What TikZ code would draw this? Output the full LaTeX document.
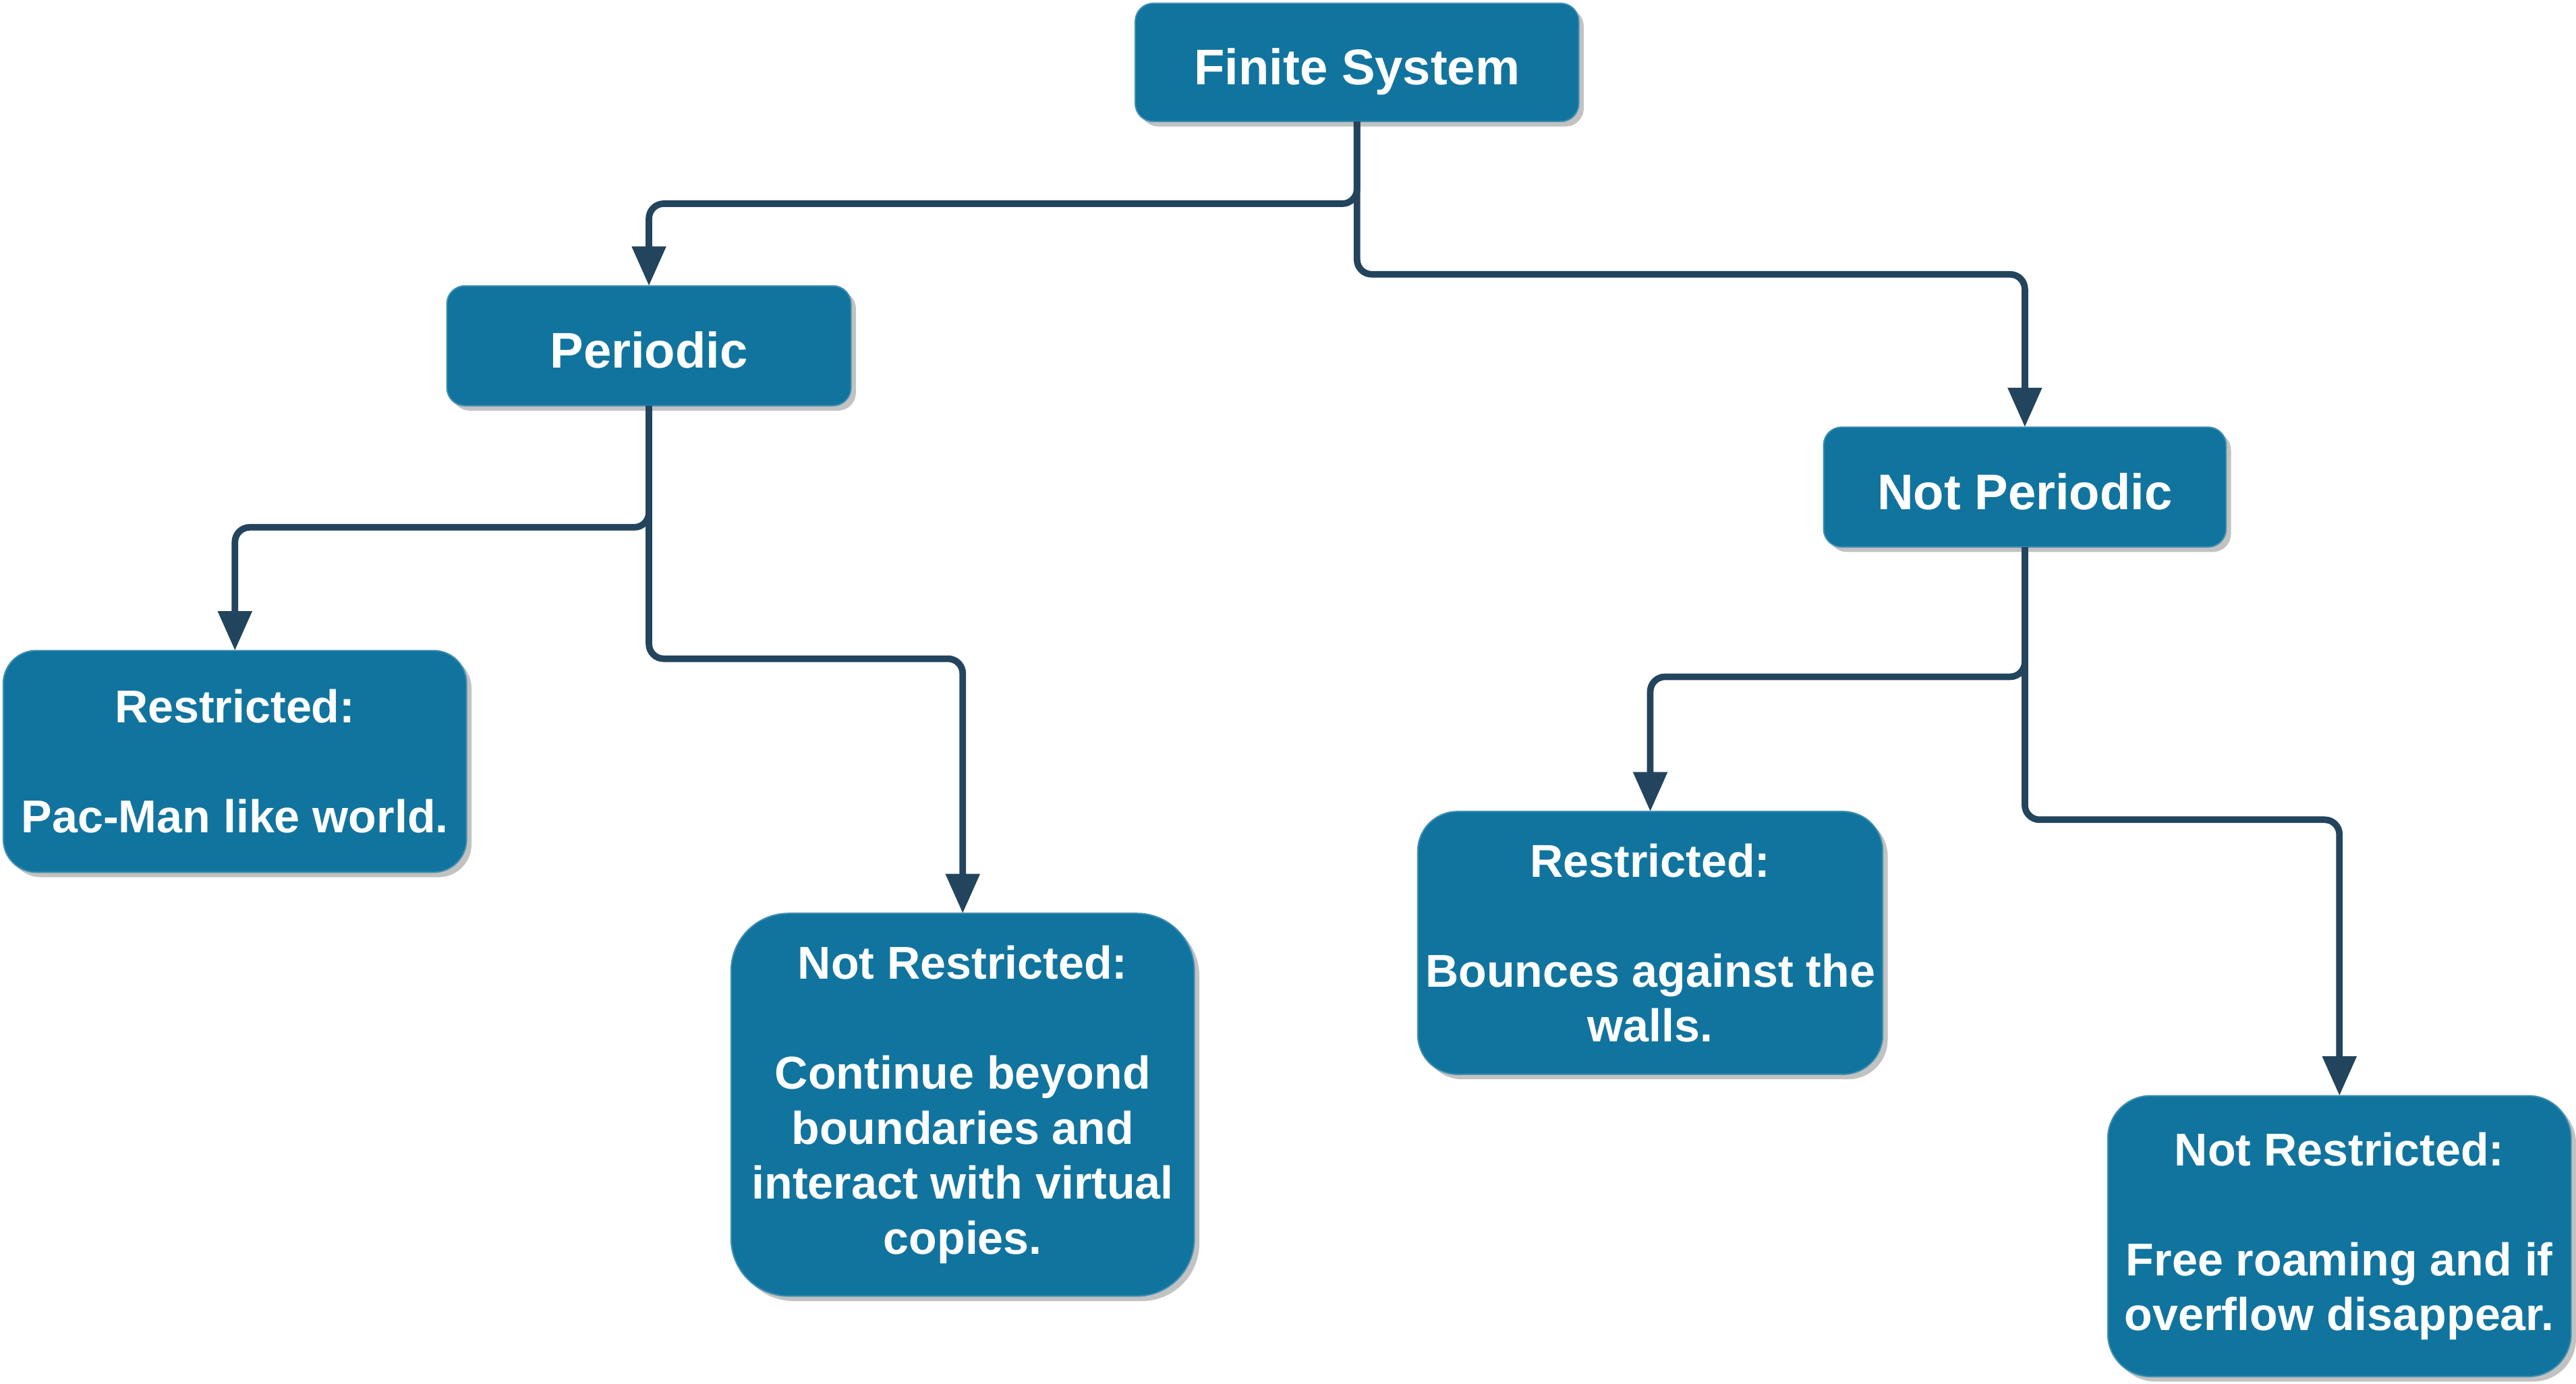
\documentclass[tikz,border=0pt]{standalone}
\usepackage{fontspec}
\setmainfont{Liberation Sans}
\usetikzlibrary{positioning,shapes,arrows.meta,shadows}
\definecolor{boxblue}{RGB}{17,116,158}
\definecolor{linknavy}{RGB}{35,68,93}
\definecolor{shadowgray}{RGB}{194,194,194}

\tikzset{
  block/.style={rectangle, rounded corners=#1, fill=boxblue, draw=boxblue!80!white,
    line width=0.8pt, text=white, align=center, inner sep=0pt, outer sep=0pt,
    font=\bfseries\fontsize{28}{33.5}\selectfont,
    drop shadow={shadow xshift=3pt, shadow yshift=-3pt, fill=shadowgray, opacity=1}},
  block/.default=24pt,
  headline/.style={font=\bfseries\fontsize{30.5}{36}\selectfont, text height=27pt, text depth=0pt},
  link/.style={draw=linknavy, line width=4pt, rounded corners=9pt,
    -{Triangle[width=20pt,length=24pt]}}
}

\begin{document}
\begin{tikzpicture}[x=1pt, y=-1pt]
% page size (units are pixels of the layout, y grows downwards)
\useasboundingbox (0,0) rectangle (1568,842.5);

% Top level
\node[block=11pt, headline, minimum width=270pt, minimum height=72pt] (fin) at (826,38) {Finite System};

% Second level
\node[block=11pt, headline, minimum width=246pt, minimum height=73pt] (per) at (395,210.5) {Periodic};
\node[block=11pt, headline, minimum width=245pt, minimum height=73pt] (nper) at (1232.5,296.5) {Not Periodic};

% Leaves under Periodic
\node[block=20pt, minimum width=282pt, minimum height=135pt] (resA) at (143,463.5)
  {Restricted:\\[33.5pt]Pac-Man like world.};
\node[block=35pt, minimum width=282pt, minimum height=233pt] (freeA) at (586,672.5)
  {Not Restricted:\\[33.5pt]Continue beyond\\boundaries and\\interact with virtual\\copies.};

% Leaves under Not Periodic
\node[block=24pt, minimum width=283pt, minimum height=160pt] (resB) at (1004.5,574)
  {Restricted:\\[33.5pt]Bounces against the\\walls.};
\node[block=26pt, minimum width=282pt, minimum height=171pt] (freeB) at (1424,752.5)
  {Not Restricted:\\[33.5pt]Free roaming and if\\overflow disappear.};

% Connectors (orthogonal, rounded)
\draw[link] (fin.south) -- ++(0,50) -| (per.north);
\draw[link] (fin.south) -- ++(0,93) -| (nper.north);
\draw[link] (per.south) -- ++(0,74) -| (resA.north);
\draw[link] (per.south) -- ++(0,154) -| (freeA.north);
\draw[link] (nper.south) -- ++(0,79) -| (resB.north);
\draw[link] (nper.south) -- ++(0,166) -| (freeB.north);
\end{tikzpicture}
\end{document}
